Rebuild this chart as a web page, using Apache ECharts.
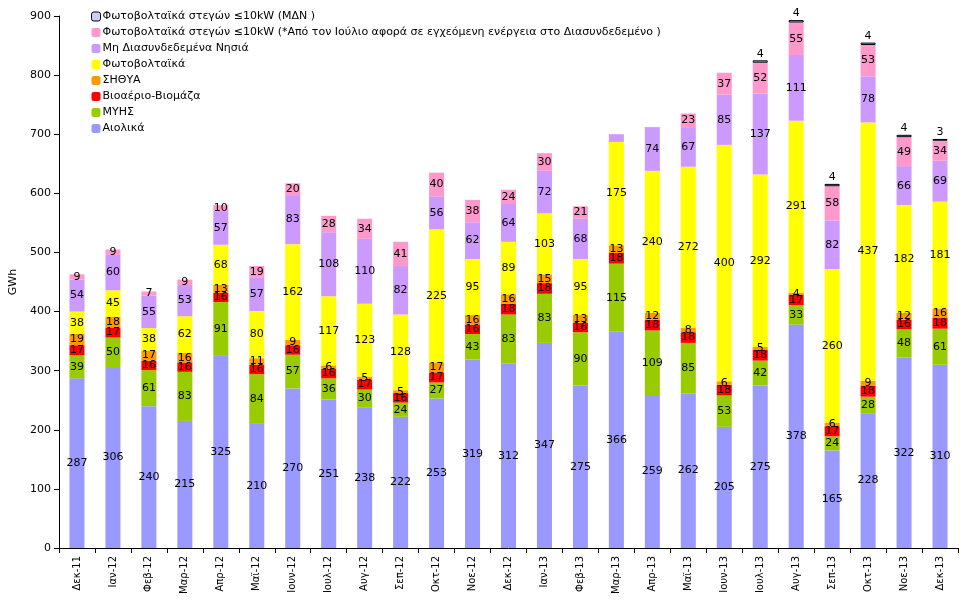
<!DOCTYPE html>
<html><head><meta charset="utf-8">
<script src="https://cdn.jsdelivr.net/npm/echarts@6/dist/echarts.min.js"></script>
<style>html,body{margin:0;padding:0;background:#fff}#c{width:977px;height:601px}</style>
</head><body><div id="c"></div>
<script>
const categories = ['Δεκ-11','Ιαν-12','Φεβ-12','Μαρ-12','Απρ-12','Μαϊ-12','Ιουν-12','Ιουλ-12','Αυγ-12','Σεπ-12','Οκτ-12','Νοε-12','Δεκ-12','Ιαν-13','Φεβ-13','Μαρ-13','Απρ-13','Μαϊ-13','Ιουν-13','Ιουλ-13','Αυγ-13','Σεπ-13','Οκτ-13','Νοε-13','Δεκ-13'];
const aiolika   = [287,306,240,215,325,210,270,251,238,222,253,319,312,347,275,366,259,262,205,275,378,165,228,322,310];
const myhs      = [39,50,61,83,91,84,57,36,30,24,27,43,83,83,90,115,109,85,53,42,33,24,28,48,61];
const bioaerio  = [17,17,16,16,16,16,16,16,17,16,17,16,18,18,16,18,18,18,18,18,17,17,18,16,18];
const sithya    = [19,18,17,16,13,11,9,6,5,5,17,16,16,15,13,13,12,8,6,5,4,6,9,12,16];
const fotovolt  = [38,45,38,62,68,80,162,117,123,128,225,95,89,103,95,175,240,272,400,292,291,260,437,182,181];
const mdn       = [54,60,55,53,57,57,83,108,110,82,56,62,64,72,68,13,74,67,85,137,111,82,78,66,69];
const stegon    = [9,9,7,9,10,19,20,28,34,41,40,38,24,30,21,null,null,23,37,52,55,58,53,49,34];
const stegonMDN = [null,null,null,null,null,null,null,null,null,null,null,null,null,null,null,null,null,null,null,4,4,4,4,4,3];
const hiddenLabels = {mdn:[15]};
const yTicks = {min:0,max:900,step:100};

const names = {
  a:'Αιολικά', m:'ΜΥΗΣ', b:'Βιοαέριο-Βιομάζα', s:'ΣΗΘΥΑ', f:'Φωτοβολταϊκά',
  n:'Μη Διασυνδεδεμένα Νησιά',
  p:'Φωτοβολταϊκά στεγών ≤10kW (*Από τον Ιούλιο αφορά σε εγχεόμενη ενέργεια στο Διασυνδεδεμένο )',
  q:'Φωτοβολταϊκά στεγών ≤10kW (ΜΔΝ )'
};
const FONT = 'DejaVu Sans';
function mk(name, data, color, extra){
  return Object.assign({
    name, type:'bar', stack:'t', data, barWidth:15,
    itemStyle:{color},
    label:{show:true, position:'inside', color:'#000', fontFamily:FONT, fontSize:11},
    emphasis:{disabled:true}
  }, extra||{});
}
const mdnData = mdn.map((v,i)=> hiddenLabels.mdn.includes(i) ? {value:v,label:{show:false}} : v);
const series = [
  mk(names.a, aiolika, '#9999FF'),
  mk(names.m, myhs, '#99CC00'),
  mk(names.b, bioaerio, '#FF0000'),
  mk(names.s, sithya, '#FF9900'),
  mk(names.f, fotovolt, '#FFFF00'),
  mk(names.n, mdnData, '#CC99FF'),
  mk(names.p, stegon, '#FF99CC'),
  mk(names.q, stegonMDN, '#CCCCFF', {itemStyle:{color:'#CCCCFF',borderColor:'#000',borderWidth:1},
     label:{show:true, position:'top', distance:1, color:'#000', fontFamily:FONT, fontSize:11}})
];
const chart = echarts.init(document.getElementById('c'));
chart.setOption({
  animation:false,
  backgroundColor:'#fff',
  grid:{left:59, right:19, top:16, bottom:53},
  legend:{
    orient:'vertical', left:86, top:6, itemWidth:9, itemHeight:9, itemGap:5,
    textStyle:{fontFamily:FONT, fontSize:11, color:'#000', padding:[0,0,0,-3]},
    data:[names.q,names.p,names.n,names.f,names.s,names.b,names.m,names.a].map(n=> n===names.q ? {name:n, itemStyle:{borderColor:'#000',borderWidth:1}} : n),
    selectedMode:false
  },
  xAxis:{
    type:'category', data:categories,
    axisLine:{lineStyle:{color:'#000'}},
    axisTick:{show:true, length:5, lineStyle:{color:'#000'}},
    axisLabel:{rotate:90, fontFamily:FONT, fontSize:10, color:'#000', margin:8}
  },
  yAxis:{
    type:'value', min:yTicks.min, max:yTicks.max, interval:yTicks.step,
    name:'GWh', nameLocation:'middle', nameGap:32, nameRotate:90,
    nameTextStyle:{fontFamily:FONT, fontSize:11, color:'#000'},
    axisLine:{show:true, lineStyle:{color:'#000'}},
    axisTick:{show:true, length:5, lineStyle:{color:'#000'}},
    splitLine:{show:false},
    axisLabel:{fontFamily:FONT, fontSize:11, color:'#000', margin:8}
  },
  series
});
</script></body></html>
